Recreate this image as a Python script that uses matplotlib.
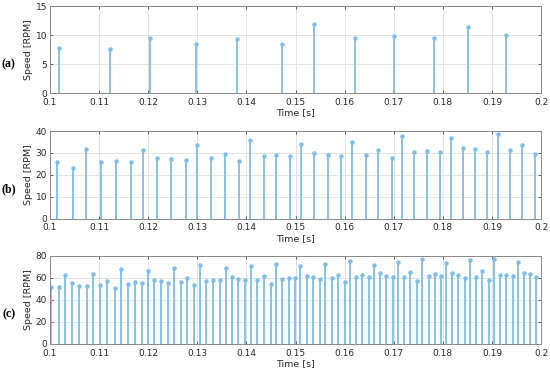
import matplotlib.pyplot as plt
import numpy as np

# panel (a)
ta = [0.10183, 0.1122, 0.1204, 0.1297, 0.1380, 0.1472, 0.1538, 0.1620, 0.1701, 0.1782, 0.1851, 0.1929]
va = [7.8, 7.6, 9.6, 8.5, 9.4, 8.5, 11.85, 9.5, 9.83, 9.55, 11.46, 10.0]

# panel (b)
tb = [0.10149, 0.10475, 0.10732, 0.11037, 0.11342, 0.11641, 0.11898, 0.12183, 0.12468, 0.12766,
      0.13003, 0.13288, 0.13559, 0.13844, 0.14068, 0.14353, 0.14607, 0.14885, 0.15115, 0.15380,
      0.15651, 0.15929, 0.16153, 0.16424, 0.16675, 0.16959, 0.17170, 0.17421, 0.17678, 0.17936,
      0.18156, 0.18400, 0.18651, 0.18902, 0.19116, 0.19359, 0.19603, 0.19869]
vb = [26.0, 23.3, 31.6, 25.7, 26.2, 25.9, 31.3, 27.5, 27.4, 26.8,
      33.5, 27.5, 29.7, 26.3, 35.7, 28.4, 29.2, 28.6, 34.2, 29.8,
      29.2, 28.5, 35.1, 29.2, 31.3, 27.5, 37.7, 30.3, 31.0, 30.6,
      36.9, 32.1, 31.7, 30.4, 38.5, 31.3, 33.5, 29.5]

# panel (c)
tc = [0.10020, 0.10176, 0.10312, 0.10447, 0.10597, 0.10746, 0.10875, 0.11017, 0.11166, 0.11315,
      0.11437, 0.11580, 0.11722, 0.11864, 0.11986, 0.12122, 0.12264, 0.12407, 0.12522, 0.12658,
      0.12793, 0.12936, 0.13051, 0.13186, 0.13322, 0.13457, 0.13579, 0.13708, 0.13837, 0.13973,
      0.14088, 0.14224, 0.14353, 0.14490, 0.14600, 0.14729, 0.14858, 0.14986, 0.15095, 0.15237,
      0.15359, 0.15495, 0.15603, 0.15732, 0.15860, 0.16000, 0.16102, 0.16230, 0.16353, 0.16488,
      0.16597, 0.16725, 0.16847, 0.16976, 0.17085, 0.17214, 0.17336, 0.17478, 0.17580, 0.17708,
      0.17830, 0.17953, 0.18061, 0.18183, 0.18312, 0.18440, 0.18542, 0.18678, 0.18793, 0.18929,
      0.19037, 0.19159, 0.19281, 0.19417, 0.19525, 0.19654, 0.19776, 0.19898]
vc = [51.8, 51.2, 62.1, 54.8, 52.7, 52.1, 63.6, 53.3, 56.7, 50.3,
      67.6, 54.5, 56.1, 54.8, 66.1, 58.2, 57.3, 54.8, 68.5, 56.4,
      59.7, 53.3, 71.2, 57.3, 58.2, 58.2, 68.5, 60.3, 58.8, 57.6,
      70.6, 57.6, 61.2, 54.5, 72.7, 58.8, 59.7, 59.4, 70.6, 61.2,
      60.9, 59.1, 72.1, 59.4, 62.7, 56.4, 75.2, 60.3, 62.1, 60.3,
      71.8, 63.9, 61.5, 60.3, 73.9, 60.9, 64.8, 57.0, 77.3, 61.8,
      63.0, 61.2, 73.6, 64.5, 62.7, 59.7, 75.8, 60.6, 66.1, 57.6,
      76.7, 62.1, 62.4, 61.5, 74.5, 64.2, 63.0, 60.3]

xticks = [0.1, 0.11, 0.12, 0.13, 0.14, 0.15, 0.16, 0.17, 0.18, 0.19, 0.2]
xticklabels = ["0.1", "0.11", "0.12", "0.13", "0.14", "0.15", "0.16", "0.17", "0.18", "0.19", "0.2"]

panels = [
    (ta, va, [0, 5, 10, 15], "(a)", [0.0909, 0.747, 0.893, 0.236]),
    (tb, vb, [0, 10, 20, 30, 40], "(b)", [0.0909, 0.406, 0.893, 0.238]),
    (tc, vc, [0, 20, 40, 60, 80], "(c)", [0.0909, 0.066, 0.893, 0.239]),
]

col = "#7dbde6"
fig = plt.figure(figsize=(5.5, 3.68), dpi=100)
for t, v, yt, lab, pos in panels:
    ax = fig.add_axes(pos)
    ml, sl, bl = ax.stem(t, v, basefmt=" ")
    plt.setp(sl, color=col, linewidth=1.3)
    plt.setp(ml, color=col, markersize=2.2, markerfacecolor=col, markeredgecolor=col)
    ax.set_xlim(0.1, 0.2)
    ax.set_ylim(yt[0], yt[-1])
    ax.set_xticks(xticks)
    ax.set_xticklabels(xticklabels)
    ax.set_yticks(yt)
    ax.grid(True, color="#e3e3e3", linewidth=0.7)
    ax.set_axisbelow(True)
    ax.tick_params(direction="in", length=2, width=0.6, labelsize=6.5, colors="#444444",
                   top=True, right=True, pad=2)
    ax.tick_params(axis="x", pad=3.5)
    ax.tick_params(labelcolor="#262626")
    for s in ax.spines.values():
        s.set_color("#888888")
        s.set_linewidth(0.7)
    ax.set_ylabel("Speed [RPM]", fontsize=6.8, color="#262626", labelpad=2)
    ax.set_xlabel("Time [s]", fontsize=6.8, color="#262626", labelpad=1)
    fig.text(0.016, pos[1] + pos[3] / 2 - 0.04, lab, fontsize=8.5, family="Liberation Serif",
             fontweight="bold", ha="center", va="center")

fig.savefig("out.png", dpi=100)
